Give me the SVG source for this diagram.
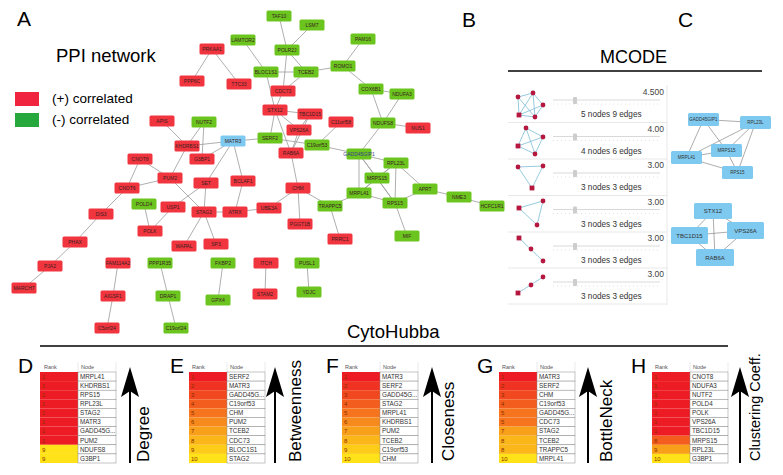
<svg xmlns="http://www.w3.org/2000/svg" width="783" height="475" viewBox="0 0 783 475">
<style>
text{font-family:"Liberation Sans",Arial,sans-serif;}
.e{stroke:#9a9a9a;stroke-width:0.8;fill:none}
.r rect{fill:#f0353f}
.g rect{fill:#6cc51f}
.b rect{fill:#7ec9ef}
.n text{font-size:5px;fill:#3a2020;text-anchor:middle}
.lbl{font-size:21px;fill:#000}
.te{stroke:#7bbdd6;stroke-width:0.8}
.td{fill:#b5173f}
.sl{stroke:#cfcfcf;stroke-width:0.8}
.tk{stroke:#d8d8d8;stroke-width:0.8;stroke-dasharray:1 3}
.kn{fill:#cdcdcd}
.val{font-size:8.5px;fill:#444;text-anchor:end}
.mt{font-size:8.2px;fill:#333}
.sep{stroke:#e2e2e2;stroke-width:0.8}
.c text{font-size:4.5px;fill:#333;text-anchor:middle}
.c rect{fill:#7ec9ef}
.c2 text{font-size:6px;fill:#333;text-anchor:middle}
.ce{stroke:#888;stroke-width:0.7}
.k1{fill:#ed1c24}.k2{fill:#ef3222}.k3{fill:#f1481f}.k4{fill:#f35e1e}.k5{fill:#f5741d}
.k6{fill:#f78a1c}.k7{fill:#f9a01b}.k8{fill:#fbb61a}.k9{fill:#fdcc19}.k10{fill:#ffe218}
.nc{fill:#fff;stroke:#8a8a8a;stroke-width:0.5}
.rt{font-size:6px;fill:#8a3000}
.nt{font-size:6.3px;fill:#333}
.hd{font-size:5.5px;fill:#555}
.hl{stroke:#ddd;stroke-width:0.6}
.ax{font-size:17px;fill:#000}
</style>
<defs>
<path id="arw" d="M0,0 L-9,30 L0,24 L9,30 Z" fill="#000"/>
</defs>

<!-- Titles -->
<text x="17" y="26" class="lbl">A</text>
<text x="462" y="27" class="lbl">B</text>
<text x="678" y="27" class="lbl">C</text>
<text x="56" y="62" style="font-size:18.5px">PPI network</text>
<rect x="15" y="92" width="24" height="14" fill="#f0243f"/>
<rect x="15" y="113" width="24" height="14" fill="#27a83c"/>
<text x="52" y="103" style="font-size:13.5px">(+) correlated</text>
<text x="52" y="124" style="font-size:13.5px">(-) correlated</text>

<!-- Network connectors -->
<g id="connectors">
<line class="e" x1="212" y1="49" x2="192" y2="81"/>
<line class="e" x1="212" y1="49" x2="239" y2="84"/>
<line class="e" x1="243" y1="40" x2="266" y2="72"/>
<line class="e" x1="279" y1="16" x2="287" y2="50"/>
<line class="e" x1="312" y1="25" x2="287" y2="50"/>
<line class="e" x1="287" y1="50" x2="306" y2="72"/>
<line class="e" x1="287" y1="50" x2="283" y2="91"/>
<line class="e" x1="266" y1="72" x2="306" y2="72"/>
<line class="e" x1="266" y1="72" x2="275" y2="110"/>
<line class="e" x1="306" y1="72" x2="283" y2="91"/>
<line class="e" x1="306" y1="72" x2="343" y2="66"/>
<line class="e" x1="343" y1="66" x2="363" y2="39"/>
<line class="e" x1="343" y1="66" x2="371" y2="89"/>
<line class="e" x1="371" y1="89" x2="402" y2="94"/>
<line class="e" x1="371" y1="89" x2="383" y2="123"/>
<line class="e" x1="402" y1="94" x2="383" y2="123"/>
<line class="e" x1="383" y1="123" x2="418" y2="128"/>
<line class="e" x1="383" y1="123" x2="359" y2="154"/>
<line class="e" x1="341" y1="122" x2="317" y2="145"/>
<line class="e" x1="283" y1="91" x2="275" y2="110"/>
<line class="e" x1="275" y1="110" x2="310" y2="114"/>
<line class="e" x1="275" y1="110" x2="299" y2="130"/>
<line class="e" x1="275" y1="110" x2="291" y2="153"/>
<line class="e" x1="275" y1="110" x2="270" y2="138"/>
<line class="e" x1="310" y1="114" x2="299" y2="130"/>
<line class="e" x1="310" y1="114" x2="291" y2="153"/>
<line class="e" x1="299" y1="130" x2="291" y2="153"/>
<line class="e" x1="270" y1="138" x2="233" y2="141"/>
<line class="e" x1="270" y1="138" x2="317" y2="145"/>
<line class="e" x1="317" y1="145" x2="359" y2="154"/>
<line class="e" x1="233" y1="141" x2="187" y2="146"/>
<line class="e" x1="233" y1="141" x2="202" y2="159"/>
<line class="e" x1="233" y1="141" x2="206" y2="183"/>
<line class="e" x1="233" y1="141" x2="243" y2="181"/>
<line class="e" x1="204" y1="122" x2="187" y2="146"/>
<line class="e" x1="204" y1="122" x2="202" y2="159"/>
<line class="e" x1="187" y1="146" x2="162" y2="121"/>
<line class="e" x1="187" y1="146" x2="170" y2="178"/>
<line class="e" x1="140" y1="159" x2="170" y2="178"/>
<line class="e" x1="140" y1="159" x2="127" y2="188"/>
<line class="e" x1="170" y1="178" x2="127" y2="188"/>
<line class="e" x1="170" y1="178" x2="204" y2="212"/>
<line class="e" x1="127" y1="188" x2="101" y2="214"/>
<line class="e" x1="101" y1="214" x2="75" y2="242"/>
<line class="e" x1="75" y1="242" x2="50" y2="266"/>
<line class="e" x1="50" y1="266" x2="24" y2="288"/>
<line class="e" x1="144" y1="204" x2="150" y2="231"/>
<line class="e" x1="173" y1="207" x2="150" y2="231"/>
<line class="e" x1="206" y1="183" x2="173" y2="207"/>
<line class="e" x1="206" y1="183" x2="204" y2="212"/>
<line class="e" x1="204" y1="212" x2="235" y2="212"/>
<line class="e" x1="204" y1="212" x2="184" y2="246"/>
<line class="e" x1="204" y1="212" x2="216" y2="244"/>
<line class="e" x1="235" y1="212" x2="243" y2="181"/>
<line class="e" x1="235" y1="212" x2="269" y2="208"/>
<line class="e" x1="269" y1="208" x2="298" y2="188"/>
<line class="e" x1="298" y1="188" x2="300" y2="224"/>
<line class="e" x1="298" y1="188" x2="330" y2="206"/>
<line class="e" x1="298" y1="188" x2="291" y2="153"/>
<line class="e" x1="330" y1="206" x2="340" y2="239"/>
<line class="e" x1="330" y1="206" x2="359" y2="193"/>
<line class="e" x1="118" y1="263" x2="113" y2="296"/>
<line class="e" x1="113" y1="296" x2="107" y2="328"/>
<line class="e" x1="160" y1="263" x2="168" y2="296"/>
<line class="e" x1="168" y1="296" x2="176" y2="328"/>
<line class="e" x1="223" y1="263" x2="218" y2="300"/>
<line class="e" x1="266" y1="263" x2="265" y2="294"/>
<line class="e" x1="307" y1="263" x2="309" y2="292"/>
<line class="e" x1="359" y1="154" x2="396" y2="163"/>
<line class="e" x1="359" y1="154" x2="359" y2="193"/>
<line class="e" x1="359" y1="154" x2="377" y2="178"/>
<line class="e" x1="359" y1="154" x2="395" y2="203"/>
<line class="e" x1="396" y1="163" x2="377" y2="178"/>
<line class="e" x1="396" y1="163" x2="395" y2="203"/>
<line class="e" x1="396" y1="163" x2="425" y2="189"/>
<line class="e" x1="396" y1="163" x2="359" y2="193"/>
<line class="e" x1="377" y1="178" x2="359" y2="193"/>
<line class="e" x1="377" y1="178" x2="395" y2="203"/>
<line class="e" x1="359" y1="193" x2="395" y2="203"/>
<line class="e" x1="395" y1="203" x2="425" y2="189"/>
<line class="e" x1="395" y1="203" x2="407" y2="236"/>
<line class="e" x1="425" y1="189" x2="459" y2="197"/>
<line class="e" x1="459" y1="197" x2="492" y2="206"/>
</g>

<!-- Network nodes -->
<g class="n">
<g id="PRKAA1" class="r"><rect x="199.5" y="43.5" width="25" height="11" rx="1.5"/><text x="212" y="50.8">PRKAA1</text></g>
<g id="PPP6C" class="r"><rect x="179.5" y="75.5" width="25" height="11" rx="1.5"/><text x="192" y="82.8">PPP6C</text></g>
<g id="TTC33" class="r"><rect x="226.5" y="78.5" width="25" height="11" rx="1.5"/><text x="239" y="85.8">TTC33</text></g>
<g id="LAMTOR2" class="g"><rect x="230.5" y="34.5" width="25" height="11" rx="1.5"/><text x="243" y="41.8">LAMTOR2</text></g>
<g id="TAF10" class="g"><rect x="266.5" y="10.5" width="25" height="11" rx="1.5"/><text x="279" y="17.8">TAF10</text></g>
<g id="LSM7" class="g"><rect x="299.5" y="19.5" width="25" height="11" rx="1.5"/><text x="312" y="26.8">LSM7</text></g>
<g id="POLR2J" class="g"><rect x="274.5" y="44.5" width="25" height="11" rx="1.5"/><text x="287" y="51.8">POLR2J</text></g>
<g id="BLOC1S1" class="g"><rect x="253.5" y="66.5" width="25" height="11" rx="1.5"/><text x="266" y="73.8">BLOC1S1</text></g>
<g id="TCEB2" class="g"><rect x="293.5" y="66.5" width="25" height="11" rx="1.5"/><text x="306" y="73.8">TCEB2</text></g>
<g id="ROMO1" class="g"><rect x="330.5" y="60.5" width="25" height="11" rx="1.5"/><text x="343" y="67.8">ROMO1</text></g>
<g id="PAM16" class="g"><rect x="350.5" y="33.5" width="25" height="11" rx="1.5"/><text x="363" y="40.8">PAM16</text></g>
<g id="CDC73" class="r"><rect x="270.5" y="85.5" width="25" height="11" rx="1.5"/><text x="283" y="92.8">CDC73</text></g>
<g id="COX6B1" class="g"><rect x="358.5" y="83.5" width="25" height="11" rx="1.5"/><text x="371" y="90.8">COX6B1</text></g>
<g id="NDUFA3" class="g"><rect x="389.5" y="88.5" width="25" height="11" rx="1.5"/><text x="402" y="95.8">NDUFA3</text></g>
<g id="STX12" class="r"><rect x="262.5" y="104.5" width="25" height="11" rx="1.5"/><text x="275" y="111.8">STX12</text></g>
<g id="TBC1D15" class="r"><rect x="297.5" y="108.5" width="25" height="11" rx="1.5"/><text x="310" y="115.8">TBC1D15</text></g>
<g id="C11orf58" class="r"><rect x="328.5" y="116.5" width="25" height="11" rx="1.5"/><text x="341" y="123.8">C11orf58</text></g>
<g id="NDUFS8" class="g"><rect x="370.5" y="117.5" width="25" height="11" rx="1.5"/><text x="383" y="124.8">NDUFS8</text></g>
<g id="NUS1" class="r"><rect x="405.5" y="122.5" width="25" height="11" rx="1.5"/><text x="418" y="129.8">NUS1</text></g>
<g id="VPS26A" class="r"><rect x="286.5" y="124.5" width="25" height="11" rx="1.5"/><text x="299" y="131.8">VPS26A</text></g>
<g id="SERF2" class="g"><rect x="257.5" y="132.5" width="25" height="11" rx="1.5"/><text x="270" y="139.8">SERF2</text></g>
<g id="MATR3" class="b"><rect x="220.5" y="135.5" width="25" height="11" rx="1.5"/><text x="233" y="142.8">MATR3</text></g>
<g id="NUTF2" class="g"><rect x="191.5" y="116.5" width="25" height="11" rx="1.5"/><text x="204" y="123.8">NUTF2</text></g>
<g id="KHDRBS1" class="r"><rect x="174.5" y="140.5" width="25" height="11" rx="1.5"/><text x="187" y="147.8">KHDRBS1</text></g>
<g id="G3BP1" class="r"><rect x="189.5" y="153.5" width="25" height="11" rx="1.5"/><text x="202" y="160.8">G3BP1</text></g>
<g id="C19orf53" class="g"><rect x="304.5" y="139.5" width="25" height="11" rx="1.5"/><text x="317" y="146.8">C19orf53</text></g>
<g id="RAB6A" class="r"><rect x="278.5" y="147.5" width="25" height="11" rx="1.5"/><text x="291" y="154.8">RAB6A</text></g>
<g id="GADD45GIP1" class="g"><rect x="346.5" y="148.5" width="25" height="11" rx="1.5"/><text x="359" y="155.8" style="fill:#3a3a8a">GADD45GIP1</text></g>
<g id="RPL23L" class="g"><rect x="383.5" y="157.5" width="25" height="11" rx="1.5"/><text x="396" y="164.8">RPL23L</text></g>
<g id="APIS" class="r"><rect x="149.5" y="115.5" width="25" height="11" rx="1.5"/><text x="162" y="122.8">APIS</text></g>
<g id="CNOT8" class="r"><rect x="127.5" y="153.5" width="25" height="11" rx="1.5"/><text x="140" y="160.8">CNOT8</text></g>
<g id="PUM2" class="r"><rect x="157.5" y="172.5" width="25" height="11" rx="1.5"/><text x="170" y="179.8">PUM2</text></g>
<g id="CNOT6" class="r"><rect x="114.5" y="182.5" width="25" height="11" rx="1.5"/><text x="127" y="189.8">CNOT6</text></g>
<g id="DIS3" class="r"><rect x="88.5" y="208.5" width="25" height="11" rx="1.5"/><text x="101" y="215.8">DIS3</text></g>
<g id="PHAX" class="r"><rect x="62.5" y="236.5" width="25" height="11" rx="1.5"/><text x="75" y="243.8">PHAX</text></g>
<g id="PJA2" class="r"><rect x="37.5" y="260.5" width="25" height="11" rx="1.5"/><text x="50" y="267.8">PJA2</text></g>
<g id="MARCH7" class="r"><rect x="11.5" y="282.5" width="25" height="11" rx="1.5"/><text x="24" y="289.8">MARCH7</text></g>
<g id="POLD4" class="g"><rect x="131.5" y="198.5" width="25" height="11" rx="1.5"/><text x="144" y="205.8">POLD4</text></g>
<g id="USP1" class="r"><rect x="160.5" y="201.5" width="25" height="11" rx="1.5"/><text x="173" y="208.8">USP1</text></g>
<g id="POLK" class="r"><rect x="137.5" y="225.5" width="25" height="11" rx="1.5"/><text x="150" y="232.8">POLK</text></g>
<g id="SET" class="r"><rect x="193.5" y="177.5" width="25" height="11" rx="1.5"/><text x="206" y="184.8">SET</text></g>
<g id="BCLAF1" class="r"><rect x="230.5" y="175.5" width="25" height="11" rx="1.5"/><text x="243" y="182.8">BCLAF1</text></g>
<g id="STAG2" class="r"><rect x="191.5" y="206.5" width="25" height="11" rx="1.5"/><text x="204" y="213.8">STAG2</text></g>
<g id="ATRX" class="r"><rect x="222.5" y="206.5" width="25" height="11" rx="1.5"/><text x="235" y="213.8">ATRX</text></g>
<g id="UBE3A" class="r"><rect x="256.5" y="202.5" width="25" height="11" rx="1.5"/><text x="269" y="209.8">UBE3A</text></g>
<g id="CHM" class="r"><rect x="285.5" y="182.5" width="25" height="11" rx="1.5"/><text x="298" y="189.8">CHM</text></g>
<g id="PGGT1B" class="r"><rect x="287.5" y="218.5" width="25" height="11" rx="1.5"/><text x="300" y="225.8">PGGT1B</text></g>
<g id="TRAPPC5" class="g"><rect x="317.5" y="200.5" width="25" height="11" rx="1.5"/><text x="330" y="207.8">TRAPPC5</text></g>
<g id="PRRC1" class="r"><rect x="327.5" y="233.5" width="25" height="11" rx="1.5"/><text x="340" y="240.8">PRRC1</text></g>
<g id="WAPAL" class="r"><rect x="171.5" y="240.5" width="25" height="11" rx="1.5"/><text x="184" y="247.8">WAPAL</text></g>
<g id="SP3" class="r"><rect x="203.5" y="238.5" width="25" height="11" rx="1.5"/><text x="216" y="245.8">SP3</text></g>
<g id="FAM114A2" class="r"><rect x="105.5" y="257.5" width="25" height="11" rx="1.5"/><text x="118" y="264.8">FAM114A2</text></g>
<g id="AIGSF1" class="r"><rect x="100.5" y="290.5" width="25" height="11" rx="1.5"/><text x="113" y="297.8">AIGSF1</text></g>
<g id="C5orf24" class="r"><rect x="94.5" y="322.5" width="25" height="11" rx="1.5"/><text x="107" y="329.8">C5orf24</text></g>
<g id="PPP1R35" class="g"><rect x="147.5" y="257.5" width="25" height="11" rx="1.5"/><text x="160" y="264.8">PPP1R35</text></g>
<g id="DRAP1" class="g"><rect x="155.5" y="290.5" width="25" height="11" rx="1.5"/><text x="168" y="297.8">DRAP1</text></g>
<g id="C19orf24" class="g"><rect x="163.5" y="322.5" width="25" height="11" rx="1.5"/><text x="176" y="329.8">C19orf24</text></g>
<g id="FKBP2" class="g"><rect x="210.5" y="257.5" width="25" height="11" rx="1.5"/><text x="223" y="264.8">FKBP2</text></g>
<g id="GPX4" class="g"><rect x="205.5" y="294.5" width="25" height="11" rx="1.5"/><text x="218" y="301.8">GPX4</text></g>
<g id="ITCH" class="r"><rect x="253.5" y="257.5" width="25" height="11" rx="1.5"/><text x="266" y="264.8">ITCH</text></g>
<g id="STAM2" class="r"><rect x="252.5" y="288.5" width="25" height="11" rx="1.5"/><text x="265" y="295.8">STAM2</text></g>
<g id="PUSL1" class="g"><rect x="294.5" y="257.5" width="25" height="11" rx="1.5"/><text x="307" y="264.8">PUSL1</text></g>
<g id="YDJC" class="g"><rect x="296.5" y="286.5" width="25" height="11" rx="1.5"/><text x="309" y="293.8">YDJC</text></g>
<g id="MRPS15" class="g"><rect x="364.5" y="172.5" width="25" height="11" rx="1.5"/><text x="377" y="179.8">MRPS15</text></g>
<g id="MRPL41" class="g"><rect x="346.5" y="187.5" width="25" height="11" rx="1.5"/><text x="359" y="194.8">MRPL41</text></g>
<g id="RPS15" class="g"><rect x="382.5" y="197.5" width="25" height="11" rx="1.5"/><text x="395" y="204.8">RPS15</text></g>
<g id="APRT" class="g"><rect x="412.5" y="183.5" width="25" height="11" rx="1.5"/><text x="425" y="190.8">APRT</text></g>
<g id="NME3" class="g"><rect x="446.5" y="191.5" width="25" height="11" rx="1.5"/><text x="459" y="198.8">NME3</text></g>
<g id="HCFC1R1" class="g"><rect x="479.5" y="200.5" width="25" height="11" rx="1.5"/><text x="492" y="207.8">HCFC1R1</text></g>
<g id="MIF" class="g"><rect x="394.5" y="230.5" width="25" height="11" rx="1.5"/><text x="407" y="237.8">MIF</text></g>
</g>

<!-- B: MCODE -->
<text x="600" y="63" style="font-size:18px">MCODE</text>
<line x1="508" y1="71" x2="762" y2="71" stroke="#000" stroke-width="1.5"/>
<line x1="667" y1="85" x2="667" y2="305" class="sep"/>
<line x1="508" y1="122.5" x2="667" y2="122.5" class="sep"/>
<line x1="508" y1="159" x2="667" y2="159" class="sep"/>
<line x1="508" y1="195.5" x2="667" y2="195.5" class="sep"/>
<line x1="508" y1="232" x2="667" y2="232" class="sep"/>
<line x1="508" y1="268" x2="667" y2="268" class="sep"/>
<line x1="508" y1="304" x2="667" y2="304" class="sep"/>
<g id="sliders">
<line x1="553" y1="100" x2="660" y2="100" class="sl"/><line x1="553" y1="104" x2="660" y2="104" class="tk"/><rect x="573" y="97" width="4" height="7" rx="1" class="kn"/>
<line x1="553" y1="136.5" x2="660" y2="136.5" class="sl"/><line x1="553" y1="140.5" x2="660" y2="140.5" class="tk"/><rect x="573" y="133.5" width="4" height="7" rx="1" class="kn"/>
<line x1="553" y1="173" x2="660" y2="173" class="sl"/><line x1="553" y1="177" x2="660" y2="177" class="tk"/><rect x="573" y="170" width="4" height="7" rx="1" class="kn"/>
<line x1="553" y1="209.5" x2="660" y2="209.5" class="sl"/><line x1="553" y1="213.5" x2="660" y2="213.5" class="tk"/><rect x="573" y="206.5" width="4" height="7" rx="1" class="kn"/>
<line x1="553" y1="246" x2="660" y2="246" class="sl"/><line x1="553" y1="250" x2="660" y2="250" class="tk"/><rect x="573" y="243" width="4" height="7" rx="1" class="kn"/>
<line x1="553" y1="282" x2="660" y2="282" class="sl"/><line x1="553" y1="286" x2="660" y2="286" class="tk"/><rect x="573" y="279" width="4" height="7" rx="1" class="kn"/>
</g>
<text x="664" y="95" class="val">4.500</text>
<text x="664" y="131.5" class="val">4.00</text>
<text x="664" y="168" class="val">3.00</text>
<text x="664" y="204.5" class="val">3.00</text>
<text x="664" y="241" class="val">3.00</text>
<text x="664" y="277" class="val">3.00</text>
<text x="581" y="117" class="mt">5 nodes 9 edges</text>
<text x="581" y="153.5" class="mt">4 nodes 6 edges</text>
<text x="581" y="190" class="mt">3 nodes 3 edges</text>
<text x="581" y="226.5" class="mt">3 nodes 3 edges</text>
<text x="581" y="263" class="mt">3 nodes 3 edges</text>
<text x="581" y="299" class="mt">3 nodes 3 edges</text>
<g id="thumbs">
<line class="te" x1="518" y1="97" x2="533" y2="93"/><line class="te" x1="518" y1="97" x2="535" y2="117"/><line class="te" x1="518" y1="97" x2="519" y2="115"/>
<line class="te" x1="533" y1="93" x2="543" y2="105"/><line class="te" x1="533" y1="93" x2="535" y2="117"/><line class="te" x1="533" y1="93" x2="519" y2="115"/>
<line class="te" x1="543" y1="105" x2="535" y2="117"/><line class="te" x1="543" y1="105" x2="519" y2="115"/><line class="te" x1="535" y1="117" x2="519" y2="115"/>
<circle class="td" cx="518" cy="97" r="2.4"/><circle class="td" cx="533" cy="93" r="2.4"/><circle class="td" cx="543" cy="105" r="2.4"/><circle class="td" cx="535" cy="117" r="2.4"/><rect class="td" x="516.6" y="112.6" width="4.8" height="4.8"/>
<line class="te" x1="526" y1="128" x2="543" y2="137"/><line class="te" x1="526" y1="128" x2="518" y2="146"/><line class="te" x1="526" y1="128" x2="535" y2="154"/>
<line class="te" x1="543" y1="137" x2="518" y2="146"/><line class="te" x1="543" y1="137" x2="535" y2="154"/><line class="te" x1="518" y1="146" x2="535" y2="154"/>
<circle class="td" cx="526" cy="128" r="2.4"/><circle class="td" cx="543" cy="137" r="2.4"/><circle class="td" cx="535" cy="154" r="2.4"/><rect class="td" x="515.6" y="143.6" width="4.8" height="4.8"/>
<line class="te" x1="518" y1="167" x2="543" y2="166"/><line class="te" x1="518" y1="167" x2="532" y2="188"/><line class="te" x1="543" y1="166" x2="532" y2="188"/>
<circle class="td" cx="518" cy="167" r="2.4"/><circle class="td" cx="543" cy="166" r="2.4"/><rect class="td" x="529.6" y="185.6" width="4.8" height="4.8"/>
<line class="te" x1="519" y1="208" x2="543" y2="201"/><line class="te" x1="519" y1="208" x2="537" y2="225"/><line class="te" x1="543" y1="201" x2="537" y2="225"/>
<circle class="td" cx="543" cy="201" r="2.4"/><circle class="td" cx="537" cy="225" r="2.4"/><rect class="td" x="516.6" y="205.6" width="4.8" height="4.8"/>
<line class="te" x1="519" y1="238" x2="543" y2="261"/>
<circle class="td" cx="531" cy="249" r="2.4"/><circle class="td" cx="543" cy="261" r="2.4"/><rect class="td" x="516.6" y="235.6" width="4.8" height="4.8"/>
<line class="te" x1="518" y1="293" x2="543" y2="277"/>
<circle class="td" cx="531" cy="285" r="2.4"/><circle class="td" cx="543" cy="277" r="2.4"/><rect class="td" x="515.6" y="290.6" width="4.8" height="4.8"/>
</g>

<!-- C: clusters -->
<g id="c-edges">
<line class="ce" x1="703.5" y1="119.5" x2="755.5" y2="122.5"/>
<line class="ce" x1="703.5" y1="119.5" x2="686.5" y2="157.5"/>
<line class="ce" x1="703.5" y1="119.5" x2="726.5" y2="150.5"/>
<line class="ce" x1="755.5" y1="122.5" x2="726.5" y2="150.5"/>
<line class="ce" x1="755.5" y1="122.5" x2="686.5" y2="157.5"/>
<line class="ce" x1="755.5" y1="122.5" x2="737.5" y2="172.5"/>
<line class="ce" x1="686.5" y1="157.5" x2="726.5" y2="150.5"/>
<line class="ce" x1="686.5" y1="157.5" x2="737.5" y2="172.5"/>
<line class="ce" x1="726.5" y1="150.5" x2="737.5" y2="172.5"/>
<line class="ce" x1="713" y1="211" x2="689.5" y2="235.5"/>
<line class="ce" x1="713" y1="211" x2="745.5" y2="230.5"/>
<line class="ce" x1="713" y1="211" x2="715" y2="257.5"/>
<line class="ce" x1="689.5" y1="235.5" x2="745.5" y2="230.5"/>
<line class="ce" x1="689.5" y1="235.5" x2="715" y2="257.5"/>
<line class="ce" x1="745.5" y1="230.5" x2="715" y2="257.5"/>
</g>
<g class="c">
<g id="C-GADD45GIP1"><rect x="688" y="113" width="31" height="13" rx="1.5"/><text x="703.5" y="121.2">GADD45GIP1</text></g>
<g id="C-RPL23L"><rect x="740" y="116" width="31" height="13" rx="1.5"/><text x="755.5" y="124.2">RPL23L</text></g>
<g id="C-MRPL41"><rect x="671" y="151" width="31" height="13" rx="1.5"/><text x="686.5" y="159.2">MRPL41</text></g>
<g id="C-MRPS15"><rect x="711" y="144" width="31" height="13" rx="1.5"/><text x="726.5" y="152.2">MRPS15</text></g>
<g id="C-RPS15"><rect x="722" y="166" width="31" height="13" rx="1.5"/><text x="737.5" y="174.2">RPS15</text></g>
</g>
<g class="c c2">
<g id="C-STX12"><rect x="694" y="203" width="38" height="16" rx="1.5"/><text x="713" y="213.2">STX12</text></g>
<g id="C-TBC1D15"><rect x="671" y="227" width="37" height="17" rx="1.5"/><text x="689.5" y="237.7">TBC1D15</text></g>
<g id="C-VPS26A"><rect x="727" y="222" width="37" height="17" rx="1.5"/><text x="745.5" y="232.7">VPS26A</text></g>
<g id="C-RAB6A"><rect x="696" y="249" width="38" height="17" rx="1.5"/><text x="715" y="259.7">RAB6A</text></g>
</g>

<!-- CytoHubba -->
<text x="347" y="337.5" style="font-size:18.5px">CytoHubba</text>
<line x1="40" y1="346" x2="728" y2="346" stroke="#000" stroke-width="1.5"/>

<text x="18" y="373" class="lbl">D</text>
<text x="170" y="373" class="lbl">E</text>
<text x="326" y="373" class="lbl">F</text>
<text x="477" y="373" class="lbl">G</text>
<text x="631" y="373" class="lbl">H</text>

<!-- Table D -->
<g id="tableD">
<line x1="78" y1="362" x2="78" y2="372" class="hl"/><line x1="116" y1="362" x2="116" y2="372" class="hl"/>
<text x="44" y="368.5" class="hd">Rank</text><text x="81" y="368.5" class="hd">Node</text>
<rect x="40" y="372" width="38" height="9.1" class="k1"/><rect x="78" y="372" width="38" height="9.1" class="nc"/><text x="42" y="378.8" class="rt">1</text><text x="80" y="378.8" class="nt">MRPL41</text>
<rect x="40" y="381.1" width="38" height="9.1" class="k1"/><rect x="78" y="381.1" width="38" height="9.1" class="nc"/><text x="42" y="387.9" class="rt">1</text><text x="80" y="387.9" class="nt">KHDRBS1</text>
<rect x="40" y="390.2" width="38" height="9.1" class="k1"/><rect x="78" y="390.2" width="38" height="9.1" class="nc"/><text x="42" y="397" class="rt">1</text><text x="80" y="397" class="nt">RPS15</text>
<rect x="40" y="399.3" width="38" height="9.1" class="k1"/><rect x="78" y="399.3" width="38" height="9.1" class="nc"/><text x="42" y="406.1" class="rt">1</text><text x="80" y="406.1" class="nt">RPL23L</text>
<rect x="40" y="408.4" width="38" height="9.1" class="k1"/><rect x="78" y="408.4" width="38" height="9.1" class="nc"/><text x="42" y="415.2" class="rt">1</text><text x="80" y="415.2" class="nt">STAG2</text>
<rect x="40" y="417.5" width="38" height="9.1" class="k1"/><rect x="78" y="417.5" width="38" height="9.1" class="nc"/><text x="42" y="424.3" class="rt">1</text><text x="80" y="424.3" class="nt">MATR3</text>
<rect x="40" y="426.6" width="38" height="9.1" class="k1"/><rect x="78" y="426.6" width="38" height="9.1" class="nc"/><text x="42" y="433.4" class="rt">1</text><text x="80" y="433.4" class="nt">GADD45G...</text>
<rect x="40" y="435.7" width="38" height="9.1" class="k1"/><rect x="78" y="435.7" width="38" height="9.1" class="nc"/><text x="42" y="442.5" class="rt">1</text><text x="80" y="442.5" class="nt">PUM2</text>
<rect x="40" y="444.8" width="38" height="9.1" class="k10"/><rect x="78" y="444.8" width="38" height="9.1" class="nc"/><text x="42" y="451.6" class="rt">9</text><text x="80" y="451.6" class="nt">NDUFS8</text>
<rect x="40" y="453.9" width="38" height="9.1" class="k10"/><rect x="78" y="453.9" width="38" height="9.1" class="nc"/><text x="42" y="460.7" class="rt">9</text><text x="80" y="460.7" class="nt">G3BP1</text>
</g>
<!-- Table E -->
<g id="tableE">
<line x1="227" y1="362" x2="227" y2="372" class="hl"/><line x1="265" y1="362" x2="265" y2="372" class="hl"/>
<text x="192" y="368.5" class="hd">Rank</text><text x="230" y="368.5" class="hd">Node</text>
<rect x="189" y="372" width="38" height="9.1" class="k1"/><rect x="227" y="372" width="38" height="9.1" class="nc"/><text x="191" y="378.8" class="rt">1</text><text x="229" y="378.8" class="nt">SERF2</text>
<rect x="189" y="381.1" width="38" height="9.1" class="k2"/><rect x="227" y="381.1" width="38" height="9.1" class="nc"/><text x="191" y="387.9" class="rt">2</text><text x="229" y="387.9" class="nt">MATR3</text>
<rect x="189" y="390.2" width="38" height="9.1" class="k3"/><rect x="227" y="390.2" width="38" height="9.1" class="nc"/><text x="191" y="397" class="rt">3</text><text x="229" y="397" class="nt">GADD45G...</text>
<rect x="189" y="399.3" width="38" height="9.1" class="k4"/><rect x="227" y="399.3" width="38" height="9.1" class="nc"/><text x="191" y="406.1" class="rt">4</text><text x="229" y="406.1" class="nt">C19orf53</text>
<rect x="189" y="408.4" width="38" height="9.1" class="k5"/><rect x="227" y="408.4" width="38" height="9.1" class="nc"/><text x="191" y="415.2" class="rt">5</text><text x="229" y="415.2" class="nt">CHM</text>
<rect x="189" y="417.5" width="38" height="9.1" class="k6"/><rect x="227" y="417.5" width="38" height="9.1" class="nc"/><text x="191" y="424.3" class="rt">6</text><text x="229" y="424.3" class="nt">PUM2</text>
<rect x="189" y="426.6" width="38" height="9.1" class="k7"/><rect x="227" y="426.6" width="38" height="9.1" class="nc"/><text x="191" y="433.4" class="rt">7</text><text x="229" y="433.4" class="nt">TCEB2</text>
<rect x="189" y="435.7" width="38" height="9.1" class="k8"/><rect x="227" y="435.7" width="38" height="9.1" class="nc"/><text x="191" y="442.5" class="rt">8</text><text x="229" y="442.5" class="nt">CDC73</text>
<rect x="189" y="444.8" width="38" height="9.1" class="k9"/><rect x="227" y="444.8" width="38" height="9.1" class="nc"/><text x="191" y="451.6" class="rt">9</text><text x="229" y="451.6" class="nt">BLOC1S1</text>
<rect x="189" y="453.9" width="38" height="9.1" class="k10"/><rect x="227" y="453.9" width="38" height="9.1" class="nc"/><text x="191" y="460.7" class="rt">10</text><text x="229" y="460.7" class="nt">STAG2</text>
</g>
<!-- Table F -->
<g id="tableF">
<line x1="380" y1="362" x2="380" y2="372" class="hl"/><line x1="418" y1="362" x2="418" y2="372" class="hl"/>
<text x="345" y="368.5" class="hd">Rank</text><text x="383" y="368.5" class="hd">Node</text>
<rect x="342" y="372" width="38" height="9.1" class="k1"/><rect x="380" y="372" width="38" height="9.1" class="nc"/><text x="344" y="378.8" class="rt">1</text><text x="382" y="378.8" class="nt">MATR3</text>
<rect x="342" y="381.1" width="38" height="9.1" class="k2"/><rect x="380" y="381.1" width="38" height="9.1" class="nc"/><text x="344" y="387.9" class="rt">2</text><text x="382" y="387.9" class="nt">SERF2</text>
<rect x="342" y="390.2" width="38" height="9.1" class="k3"/><rect x="380" y="390.2" width="38" height="9.1" class="nc"/><text x="344" y="397" class="rt">3</text><text x="382" y="397" class="nt">GADD45G...</text>
<rect x="342" y="399.3" width="38" height="9.1" class="k4"/><rect x="380" y="399.3" width="38" height="9.1" class="nc"/><text x="344" y="406.1" class="rt">4</text><text x="382" y="406.1" class="nt">STAG2</text>
<rect x="342" y="408.4" width="38" height="9.1" class="k5"/><rect x="380" y="408.4" width="38" height="9.1" class="nc"/><text x="344" y="415.2" class="rt">5</text><text x="382" y="415.2" class="nt">MRPL41</text>
<rect x="342" y="417.5" width="38" height="9.1" class="k6"/><rect x="380" y="417.5" width="38" height="9.1" class="nc"/><text x="344" y="424.3" class="rt">6</text><text x="382" y="424.3" class="nt">KHDRBS1</text>
<rect x="342" y="426.6" width="38" height="9.1" class="k7"/><rect x="380" y="426.6" width="38" height="9.1" class="nc"/><text x="344" y="433.4" class="rt">7</text><text x="382" y="433.4" class="nt">PUM2</text>
<rect x="342" y="435.7" width="38" height="9.1" class="k8"/><rect x="380" y="435.7" width="38" height="9.1" class="nc"/><text x="344" y="442.5" class="rt">8</text><text x="382" y="442.5" class="nt">TCEB2</text>
<rect x="342" y="444.8" width="38" height="9.1" class="k9"/><rect x="380" y="444.8" width="38" height="9.1" class="nc"/><text x="344" y="451.6" class="rt">9</text><text x="382" y="451.6" class="nt">C19orf53</text>
<rect x="342" y="453.9" width="38" height="9.1" class="k10"/><rect x="380" y="453.9" width="38" height="9.1" class="nc"/><text x="344" y="460.7" class="rt">10</text><text x="382" y="460.7" class="nt">CHM</text>
</g>
<!-- Table G -->
<g id="tableG">
<line x1="537" y1="362" x2="537" y2="372" class="hl"/><line x1="575" y1="362" x2="575" y2="372" class="hl"/>
<text x="502" y="368.5" class="hd">Rank</text><text x="540" y="368.5" class="hd">Node</text>
<rect x="499" y="372" width="38" height="9.1" class="k1"/><rect x="537" y="372" width="38" height="9.1" class="nc"/><text x="501" y="378.8" class="rt">1</text><text x="539" y="378.8" class="nt">MATR3</text>
<rect x="499" y="381.1" width="38" height="9.1" class="k2"/><rect x="537" y="381.1" width="38" height="9.1" class="nc"/><text x="501" y="387.9" class="rt">2</text><text x="539" y="387.9" class="nt">SERF2</text>
<rect x="499" y="390.2" width="38" height="9.1" class="k3"/><rect x="537" y="390.2" width="38" height="9.1" class="nc"/><text x="501" y="397" class="rt">3</text><text x="539" y="397" class="nt">CHM</text>
<rect x="499" y="399.3" width="38" height="9.1" class="k4"/><rect x="537" y="399.3" width="38" height="9.1" class="nc"/><text x="501" y="406.1" class="rt">4</text><text x="539" y="406.1" class="nt">C19orf53</text>
<rect x="499" y="408.4" width="38" height="9.1" class="k5"/><rect x="537" y="408.4" width="38" height="9.1" class="nc"/><text x="501" y="415.2" class="rt">5</text><text x="539" y="415.2" class="nt">GADD45G...</text>
<rect x="499" y="417.5" width="38" height="9.1" class="k5"/><rect x="537" y="417.5" width="38" height="9.1" class="nc"/><text x="501" y="424.3" class="rt">5</text><text x="539" y="424.3" class="nt">CDC73</text>
<rect x="499" y="426.6" width="38" height="9.1" class="k7"/><rect x="537" y="426.6" width="38" height="9.1" class="nc"/><text x="501" y="433.4" class="rt">7</text><text x="539" y="433.4" class="nt">STAG2</text>
<rect x="499" y="435.7" width="38" height="9.1" class="k8"/><rect x="537" y="435.7" width="38" height="9.1" class="nc"/><text x="501" y="442.5" class="rt">8</text><text x="539" y="442.5" class="nt">TCEB2</text>
<rect x="499" y="444.8" width="38" height="9.1" class="k8"/><rect x="537" y="444.8" width="38" height="9.1" class="nc"/><text x="501" y="451.6" class="rt">8</text><text x="539" y="451.6" class="nt">TRAPPC5</text>
<rect x="499" y="453.9" width="38" height="9.1" class="k10"/><rect x="537" y="453.9" width="38" height="9.1" class="nc"/><text x="501" y="460.7" class="rt">10</text><text x="539" y="460.7" class="nt">MRPL41</text>
</g>
<!-- Table H -->
<g id="tableH">
<line x1="690" y1="362" x2="690" y2="372" class="hl"/><line x1="728" y1="362" x2="728" y2="372" class="hl"/>
<text x="655" y="368.5" class="hd">Rank</text><text x="693" y="368.5" class="hd">Node</text>
<rect x="652" y="372" width="38" height="9.1" class="k1"/><rect x="690" y="372" width="38" height="9.1" class="nc"/><text x="654" y="378.8" class="rt">1</text><text x="692" y="378.8" class="nt">CNOT8</text>
<rect x="652" y="381.1" width="38" height="9.1" class="k1"/><rect x="690" y="381.1" width="38" height="9.1" class="nc"/><text x="654" y="387.9" class="rt">1</text><text x="692" y="387.9" class="nt">NDUFA3</text>
<rect x="652" y="390.2" width="38" height="9.1" class="k1"/><rect x="690" y="390.2" width="38" height="9.1" class="nc"/><text x="654" y="397" class="rt">1</text><text x="692" y="397" class="nt">NUTF2</text>
<rect x="652" y="399.3" width="38" height="9.1" class="k1"/><rect x="690" y="399.3" width="38" height="9.1" class="nc"/><text x="654" y="406.1" class="rt">1</text><text x="692" y="406.1" class="nt">POLD4</text>
<rect x="652" y="408.4" width="38" height="9.1" class="k1"/><rect x="690" y="408.4" width="38" height="9.1" class="nc"/><text x="654" y="415.2" class="rt">1</text><text x="692" y="415.2" class="nt">POLK</text>
<rect x="652" y="417.5" width="38" height="9.1" class="k1"/><rect x="690" y="417.5" width="38" height="9.1" class="nc"/><text x="654" y="424.3" class="rt">1</text><text x="692" y="424.3" class="nt">VPS26A</text>
<rect x="652" y="426.6" width="38" height="9.1" class="k1"/><rect x="690" y="426.6" width="38" height="9.1" class="nc"/><text x="654" y="433.4" class="rt">1</text><text x="692" y="433.4" class="nt">TBC1D15</text>
<rect x="652" y="435.7" width="38" height="9.1" class="k4"/><rect x="690" y="435.7" width="38" height="9.1" class="nc"/><text x="654" y="442.5" class="rt">8</text><text x="692" y="442.5" class="nt">MRPS15</text>
<rect x="652" y="444.8" width="38" height="9.1" class="k7"/><rect x="690" y="444.8" width="38" height="9.1" class="nc"/><text x="654" y="451.6" class="rt">9</text><text x="692" y="451.6" class="nt">RPL23L</text>
<rect x="652" y="453.9" width="38" height="9.1" class="k10"/><rect x="690" y="453.9" width="38" height="9.1" class="nc"/><text x="654" y="460.7" class="rt">10</text><text x="692" y="460.7" class="nt">G3BP1</text>
</g>

<!-- Arrows and axis labels -->
<g id="arrows">
<line x1="130" y1="385" x2="130" y2="463" stroke="#000" stroke-width="2"/><use href="#arw" x="130" y="367"/>
<line x1="275" y1="385" x2="275" y2="463" stroke="#000" stroke-width="2"/><use href="#arw" x="275" y="367"/>
<line x1="432" y1="385" x2="432" y2="463" stroke="#000" stroke-width="2"/><use href="#arw" x="432" y="367"/>
<line x1="588" y1="385" x2="588" y2="463" stroke="#000" stroke-width="2"/><use href="#arw" x="588" y="367"/>
<line x1="740" y1="385" x2="740" y2="463" stroke="#000" stroke-width="2"/><use href="#arw" x="740" y="367"/>
</g>
<text transform="translate(149,462) rotate(-90)" class="ax">Degree</text>
<text transform="translate(301,462) rotate(-90)" class="ax">Betweenness</text>
<text transform="translate(454,461) rotate(-90)" class="ax">Closeness</text>
<text transform="translate(612,462) rotate(-90)" class="ax">BottleNeck</text>
<text transform="translate(760,461) rotate(-90)" style="font-size:14.5px">Clustering Coeff.</text>
</svg>
